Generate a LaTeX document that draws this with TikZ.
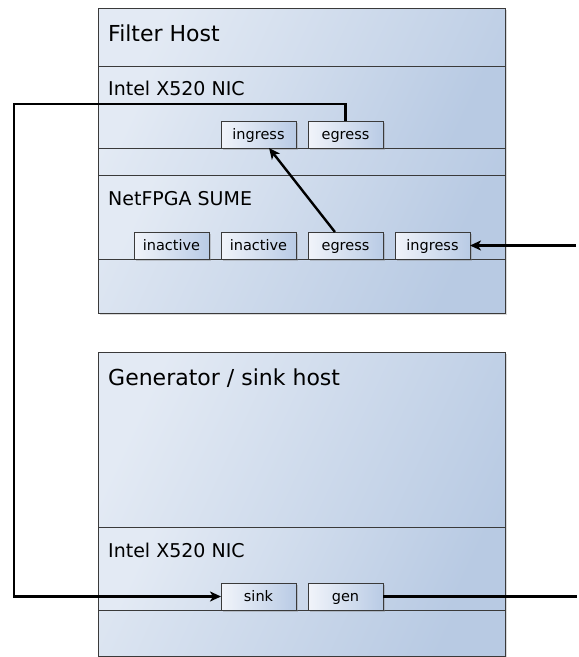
\documentclass[tikz,border=0pt]{standalone}
\usepackage{fontspec}
\setmainfont{DejaVu Sans}
\usetikzlibrary{arrows.meta,shadows,positioning}

\definecolor{boxlight}{HTML}{E3EAF4}
\definecolor{boxdark}{HTML}{B8CAE3}
\definecolor{portlight}{HTML}{F1F4FA}
\definecolor{portdark}{HTML}{B9CBE5}
\definecolor{edgegray}{HTML}{3A3A3A}

\tikzset{
  host/.style={draw=edgegray, line width=1pt, anchor=north west, inner sep=0pt, outer sep=0pt,
    minimum width=407pt, left color=boxlight, right color=boxdark, shading angle=65,
    drop shadow={shadow xshift=2pt, shadow yshift=-2pt, opacity=0.3}},
  section/.style={draw=edgegray, line width=0.9pt, anchor=north west, inner sep=0pt, outer sep=0pt,
    minimum width=407pt, left color=boxlight, right color=boxdark, shading angle=65},
  port/.style={draw=edgegray, line width=0.9pt, inner sep=0pt, outer sep=0pt,
    minimum width=75pt, minimum height=27pt, left color=portlight, right color=portdark,
    text height=12pt, text depth=2pt, font=\fontsize{14.5}{17}\selectfont,
    drop shadow={shadow xshift=1.5pt, shadow yshift=-1.5pt, opacity=0.35}},
  title/.style={inner sep=0pt, anchor=north west, font=\fontsize{22}{26}\selectfont},
  label/.style={inner sep=0pt, anchor=north west, font=\fontsize{19}{23}\selectfont},
  link/.style={line width=2.4pt},
  tip/.style={-{Stealth[length=11pt,width=10pt,inset=3pt]}},
}

\begin{document}
\begin{tikzpicture}[x=1pt, y=-1pt]
\useasboundingbox (0,0) rectangle (579,657);

% filter host
\node[host, minimum height=305pt] (filter) at (98,8) {};
\node[section, minimum height=82pt] (fnic) at (98,66) {};
\node[section, minimum height=84pt] (fpga) at (98,175) {};
\node[title, below right=17pt and 10pt of filter.north west] (ftitle) {Filter Host};
\node[label, below right=15pt and 10pt of fnic.north west] (fniclabel) {Intel X520 NIC};
\node[label, below right=16pt and 10pt of fpga.north west] (fpgalabel) {NetFPGA SUME};

\node[port, above right=0pt and 123pt of fnic.south west] (nicingress) {ingress};
\node[port, right=12pt of nicingress] (nicegress) {egress};

\node[port, above right=0pt and 36pt of fpga.south west] (inactivea) {inactive};
\node[port, right=12pt of inactivea] (inactiveb) {inactive};
\node[port, right=12pt of inactiveb] (fpgaegress) {egress};
\node[port, right=12pt of fpgaegress] (fpgaingress) {ingress};

% generator / sink host
\node[host, minimum height=304pt] (gensink) at (98,352) {};
\node[section, minimum height=83pt] (gnic) at (98,527) {};
\node[title, below right=17pt and 10pt of gensink.north west] (gtitle) {Generator / sink host};
\node[label, below right=16pt and 10pt of gnic.north west] (gniclabel) {Intel X520 NIC};

\node[port, above right=0pt and 123pt of gnic.south west] (sink) {sink};
\node[port, right=12pt of sink] (gen) {gen};

% wiring
\coordinate (bend) at (14,104);
\coordinate[right=106pt of fpgaingress.east] (fpgain);
\coordinate[right=194pt of gen.east] (genout);

\draw[link, tip] (nicegress.north) |- (bend) |- (sink.west);
\draw[link, tip] (fpgaegress) -- (nicingress);
\draw[link, tip] (fpgain) -- (fpgaingress.east);
\draw[link] (gen.east) -- (genout);
\end{tikzpicture}
\end{document}
